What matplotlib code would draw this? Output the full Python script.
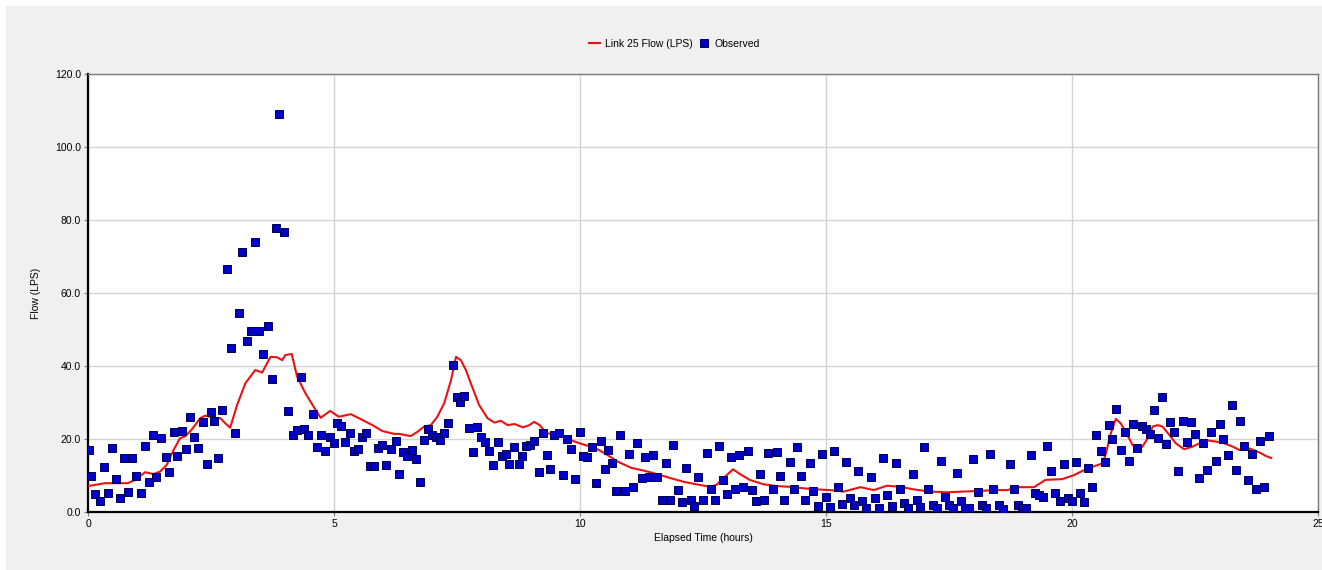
import matplotlib
matplotlib.use("Agg")
import matplotlib.pyplot as plt
from matplotlib.patches import Rectangle
from matplotlib.lines import Line2D

plt.rcParams["font.family"] = ["Liberation Sans", "DejaVu Sans"]
plt.rcParams["font.size"] = 7.5

# simulated link flow (hours, LPS)
sim_time = [0.0, 0.35, 0.81, 0.96, 1.16, 1.33, 1.47, 1.60, 1.74, 1.87, 1.98, 2.11, 2.28, 2.38,
            2.49, 2.59, 2.69, 2.79, 2.89, 3.03, 3.20, 3.40, 3.54, 3.71, 3.84, 3.95, 4.01, 4.14,
            4.25, 4.42, 4.63, 4.73, 4.92, 5.10, 5.34, 5.58, 5.78, 5.98, 6.22, 6.32, 6.56, 6.70,
            6.83, 6.97, 7.10, 7.24, 7.38, 7.48, 7.58, 7.68, 7.78, 7.95, 8.12, 8.26, 8.39, 8.53,
            8.67, 8.84, 8.97, 9.07, 9.18, 9.31, 9.48, 9.68, 9.89, 10.09, 10.30, 10.50, 10.77,
            11.04, 11.31, 11.59, 11.86, 12.13, 12.44, 12.64, 12.77, 12.91, 13.11, 13.25, 13.45,
            13.73, 14.00, 14.27, 14.54, 14.81, 15.08, 15.36, 15.70, 15.97, 16.24, 16.51, 16.78,
            17.12, 17.46, 17.80, 18.14, 18.48, 18.68, 18.92, 19.23, 19.46, 19.80, 20.04, 20.25,
            20.42, 20.62, 20.69, 20.79, 20.89, 20.99, 21.09, 21.23, 21.33, 21.43, 21.54, 21.64,
            21.74, 21.84, 21.98, 22.11, 22.28, 22.45, 22.72, 23.06, 23.27, 23.40, 23.61, 23.81,
            23.95, 24.05]
sim_flow = [7.1, 7.9, 7.9, 8.8, 10.9, 10.4, 11.1, 12.9, 17.0, 20.2, 20.8, 22.6, 25.7, 26.4,
            26.1, 25.7, 25.7, 24.3, 23.1, 29.3, 35.3, 38.9, 38.2, 42.5, 42.4, 41.6, 43.0, 43.3,
            37.1, 32.5, 27.9, 25.8, 27.7, 26.1, 26.8, 25.2, 23.8, 22.2, 21.4, 21.4, 20.8, 22.0,
            23.4, 23.8, 26.1, 29.8, 36.2, 42.5, 41.6, 38.9, 35.3, 29.3, 25.7, 24.5, 25.0, 23.8,
            24.1, 23.2, 23.8, 24.7, 23.8, 21.7, 21.1, 20.5, 19.3, 18.4, 17.6, 16.1, 13.8,
            12.1, 11.3, 10.3, 9.2, 8.2, 7.4, 6.9, 7.4, 9.2, 11.7, 10.4, 8.8,
            7.6, 7.1, 6.9, 6.5, 6.2, 6.0, 5.6, 6.8, 6.0, 7.2, 6.9, 6.2,
            5.6, 5.4, 5.6, 5.8, 6.0, 6.0, 6.8, 6.8, 8.8, 9.0, 10.1, 11.5,
            12.4, 13.3, 16.1, 21.6, 25.5, 24.3, 22.0, 18.4, 17.0, 17.9, 20.2, 23.4,
            23.8, 23.4, 21.1, 18.8, 17.2, 17.9, 19.7, 19.0, 17.9, 17.0, 17.4, 16.3,
            15.3, 14.8]

# observed flow (hours, LPS)
obs_time = [0.02, 0.06, 0.14, 0.24, 0.33, 0.40, 0.48, 0.56, 0.66, 0.74, 0.82, 0.90, 0.98, 1.08,
            1.16, 1.24, 1.32, 1.39, 1.49, 1.58, 1.65, 1.74, 1.81, 1.92, 1.99, 2.07, 2.15, 2.23,
            2.33, 2.41, 2.49, 2.57, 2.65, 2.72, 2.83, 2.91, 2.98, 3.06, 3.14, 3.24, 3.32, 3.40,
            3.48, 3.56, 3.66, 3.74, 3.82, 3.89, 3.98, 4.07, 4.16, 4.24, 4.32, 4.40, 4.48, 4.57,
            4.65, 4.74, 4.82, 4.92, 4.99, 5.07, 5.15, 5.23, 5.32, 5.41, 5.49, 5.57, 5.65, 5.73,
            5.82, 5.90, 5.98, 6.06, 6.16, 6.25,
            6.33, 6.41, 6.49, 6.58, 6.66, 6.75, 6.82, 6.91, 7.00, 7.08, 7.16, 7.24, 7.32, 7.41,
            7.49, 7.57, 7.65, 7.74, 7.82, 7.91, 7.99, 8.07, 8.15, 8.23, 8.33, 8.41, 8.49, 8.56,
            8.65, 8.75, 8.83, 8.91, 8.99, 9.07, 9.16, 9.24, 9.32, 9.40, 9.48, 9.57, 9.66, 9.74,
            9.82, 9.90, 10.00, 10.06, 10.15, 10.24, 10.32, 10.42, 10.50, 10.57, 10.66, 10.74,
            10.82, 10.91, 10.99, 11.07, 11.15, 11.25, 11.33, 11.41, 11.49, 11.57, 11.67, 11.75,
            11.82, 11.90, 11.99, 12.08, 12.16, 12.25, 12.32, 12.40,
            12.50, 12.59, 12.66, 12.74, 12.82, 12.90, 12.99, 13.07, 13.16, 13.24, 13.32, 13.41,
            13.49, 13.58, 13.66, 13.74, 13.83, 13.92, 14.00, 14.07, 14.15, 14.26, 14.34, 14.41,
            14.49, 14.57, 14.67, 14.74, 14.83, 14.91, 14.99, 15.08, 15.16, 15.25, 15.32, 15.41,
            15.49, 15.57, 15.66, 15.74, 15.82, 15.91, 15.99, 16.08, 16.16, 16.24, 16.34, 16.42,
            16.50, 16.58, 16.66, 16.76, 16.84, 16.92, 17.00, 17.08, 17.17, 17.25, 17.33, 17.41,
            17.50, 17.58, 17.67, 17.75, 17.83, 17.91, 17.98, 18.09, 18.17, 18.25, 18.33, 18.40,
            18.51, 18.60,
            18.73, 18.82, 18.91, 18.99, 19.07, 19.16, 19.24, 19.33, 19.41, 19.49, 19.57, 19.66,
            19.75, 19.83, 19.91, 19.99, 20.08, 20.17, 20.25, 20.33, 20.41, 20.49, 20.58, 20.67,
            20.75, 20.82, 20.90, 21.00, 21.08, 21.16, 21.24, 21.33, 21.42, 21.50, 21.58, 21.66,
            21.74, 21.83, 21.92, 22.00, 22.08, 22.16, 22.26, 22.34, 22.42, 22.50, 22.58, 22.66,
            22.75, 22.83, 22.92, 23.00, 23.07, 23.17, 23.25, 23.33, 23.41, 23.49, 23.58, 23.66,
            23.74, 23.82, 23.91, 24.00]
obs_flow = [17.0, 10.0, 4.9, 3.0, 12.4, 5.1, 17.4, 9.1, 3.7, 14.7, 5.4, 14.7, 10.0, 5.1,
            18.2, 8.3, 21.2, 9.7, 20.4, 15.1, 11.0, 22.0, 15.3, 22.3, 17.2, 26.0, 20.6, 17.4,
            24.7, 13.2, 27.3, 24.9, 14.8, 27.9, 66.6, 45.0, 21.6, 54.6, 71.1, 46.8, 49.5, 73.9,
            49.5, 43.4, 50.9, 36.4, 77.9, 109.0, 76.6, 27.6, 21.1, 22.4, 37.0, 22.8, 21.2, 26.8,
            17.7, 21.2, 16.7, 20.5, 18.8, 24.5, 23.6, 19.1, 21.6, 16.7, 17.2, 20.5, 21.7, 12.7,
            12.7, 17.4, 18.4, 12.9, 17.3, 19.4,
            10.5, 16.5, 15.3, 17.0, 14.5, 8.1, 19.6, 22.8, 21.0, 20.5, 19.6, 21.6, 24.5, 40.2,
            31.6, 30.1, 31.7, 23.0, 16.4, 23.3, 20.5, 19.2, 16.7, 12.9, 19.2, 15.3, 15.8, 13.2,
            17.9, 13.2, 15.3, 18.2, 18.4, 19.5, 11.0, 21.7, 15.5, 11.9, 21.0, 21.6, 10.2, 19.9,
            17.2, 9.0, 21.8, 15.4, 15.1, 17.7, 7.9, 19.5, 11.9, 16.9, 13.3, 5.7,
            21.0, 5.7, 15.8, 6.8, 18.8, 9.2, 15.1, 9.5, 15.5, 9.7, 3.3, 13.3,
            3.3, 18.3, 6.0, 2.7, 12.1, 3.4, 1.7, 9.7,
            3.3, 16.3, 6.2, 3.3, 18.0, 8.8, 4.9, 15.1, 6.3, 15.5, 6.8, 16.8,
            6.0, 2.9, 10.5, 3.3, 16.1, 6.3, 16.4, 9.9, 3.3, 13.8, 6.3, 17.7,
            9.9, 3.3, 13.3, 5.8, 1.7, 15.8, 4.1, 1.5, 16.7, 6.9, 2.1, 13.7,
            3.7, 1.9, 11.1, 2.9, 1.2, 9.7, 3.7, 1.2, 14.8, 4.7, 1.7, 13.3,
            6.2, 2.4, 1.2, 10.4, 3.3, 1.5, 17.9, 6.3, 1.9, 1.2, 14.0, 4.1,
            1.9, 1.2, 10.7, 3.1, 1.2, 1.2, 14.4, 5.4, 1.9, 1.2, 15.8, 6.3,
            1.9, 0.9,
            13.2, 6.2, 1.9, 1.2, 1.2, 15.5, 5.1, 4.7, 4.1, 18.0, 11.3, 5.1,
            3.1, 13.2, 3.9, 2.9, 13.7, 5.1, 2.7, 12.1, 6.8, 21.2, 16.8, 13.8,
            23.9, 19.9, 28.1, 17.0, 21.8, 14.1, 24.2, 17.5, 23.6, 22.8, 21.4, 27.9,
            20.4, 31.6, 18.5, 24.7, 21.9, 11.3, 24.9, 19.2, 24.7, 21.3, 9.2, 18.8,
            11.6, 22.0, 14.0, 24.2, 19.9, 15.5, 29.2, 11.6, 24.9, 18.2, 8.8, 15.8,
            6.2, 19.4, 6.8, 20.9]

x_ticks = [0, 5, 10, 15, 20, 25]
y_ticks = [0, 20, 40, 60, 80, 100, 120]

fig = plt.figure(figsize=(13.22, 5.70), dpi=100, facecolor="white")
fig.patches.append(Rectangle((6 / 1322, 0), 1, 1 - 6 / 570, transform=fig.transFigure,
                             facecolor="#f0f0f0", edgecolor="none", zorder=-10))
ax = fig.add_axes([88 / 1322, 1 - 512 / 570, 1230 / 1322, 438 / 570])
ax.set_facecolor("white")

ax.plot(sim_time, sim_flow, color="#ee1111", lw=1.5, zorder=3)
ax.plot(obs_time, obs_flow, ls="none", marker="s", ms=5.6, mfc="#0000c8",
        mec="#000050", mew=0.7, zorder=4)

ax.set_xlim(0, 25)
ax.set_ylim(0, 120)
ax.set_xticks(x_ticks)
ax.set_yticks(y_ticks)
ax.set_yticklabels([f"{v:.1f}" for v in y_ticks])
ax.grid(True, color="#d4d4d4", lw=1.0)
ax.set_axisbelow(True)
ax.tick_params(length=3, width=0.8, color="#808080", labelsize=7.5, pad=2)

for side in ["left", "bottom"]:
    ax.spines[side].set_color("black")
    ax.spines[side].set_linewidth(1.6)
for side in ["top", "right"]:
    ax.spines[side].set_color("#7a7a7a")
    ax.spines[side].set_linewidth(1.0)

ax.set_xlabel("Elapsed Time (hours)", fontsize=7.5, labelpad=3)
ax.set_ylabel("Flow (LPS)", fontsize=7.5, labelpad=10)

handles = [
    Line2D([], [], color="#ee1111", lw=1.5),
    Line2D([], [], ls="none", marker="s", ms=5.6, mfc="#0000c8", mec="#000050", mew=0.7),
]
fig.legend(handles, ["Link 25 Flow (LPS)", "Observed"], loc="center",
           bbox_to_anchor=(0.51, 1 - 44 / 570), ncol=2, frameon=False,
           handlelength=1.1, handletextpad=0.4, columnspacing=0.6, fontsize=7.5)

fig.savefig("out.png", dpi=100, facecolor=fig.get_facecolor())
